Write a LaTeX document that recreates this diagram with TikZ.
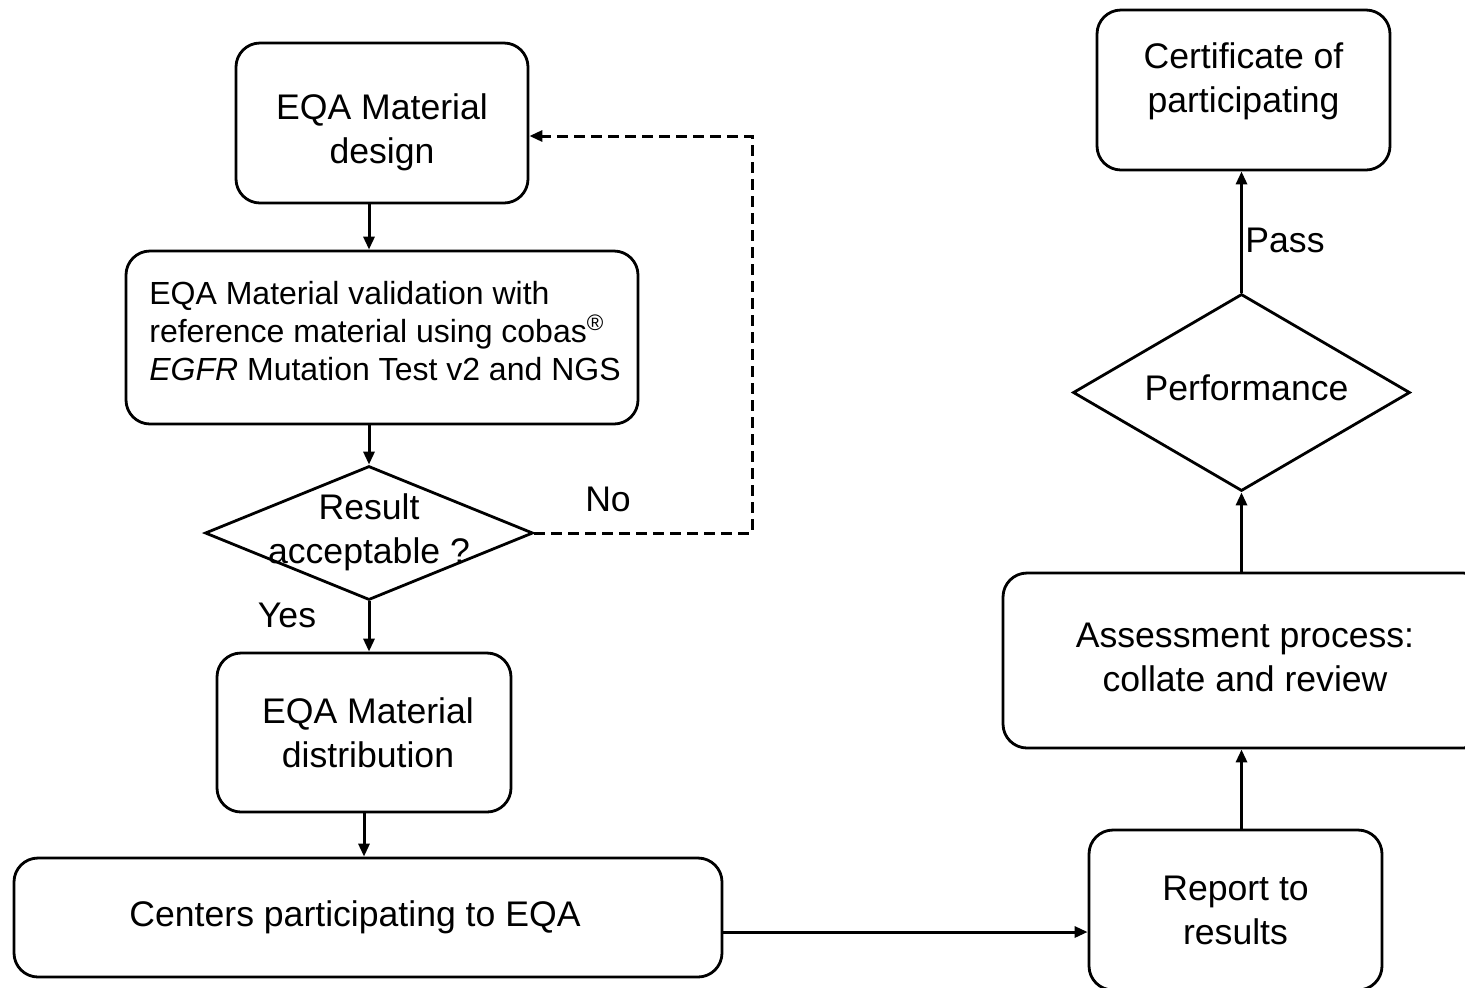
\documentclass[tikz,border=0pt]{standalone}
\usepackage{fontspec}
\setmainfont{Liberation Sans}
\usetikzlibrary{shapes.geometric,arrows.meta}
\begin{document}
\begin{tikzpicture}[x=0.5pt,y=-0.5pt,
  big/.style={font=\fontsize{17.8}{22}\selectfont},
  box/.style={draw, line width=1.4pt, rounded corners=12pt, inner sep=0pt},
  dia/.style={draw, line width=1.4pt, diamond, inner sep=0pt},
  tl/.style={align=center, inner sep=0pt, big},
  conn/.style={line width=1.5pt, -{Triangle[length=6.5pt,width=5.5pt]}},
  back/.style={conn, dash pattern=on 5.5pt off 3pt},
  lab/.style={inner sep=0pt, big}]
\useasboundingbox (0,0) rectangle (1465,987);
\fill[white] (0,0) rectangle (1465,987);

\node[box, minimum width=146pt, minimum height=80pt,
  label={[tl, yshift=-4.5pt]center:EQA Material\\design}] (design) at (382,123) {};
\node[box, minimum width=256pt, minimum height=86.5pt,
  label={[tl, align=left, font=\fontsize{16}{19}\selectfont, yshift=3.2pt, xshift=1.5pt]center:EQA Material validation with\\reference material using cobas\textsuperscript{®}\\\textit{EGFR} Mutation Test v2 and NGS}] (valid) at (382,337.5) {};
\node[dia, minimum width=164pt, minimum height=67pt,
  label={[tl, yshift=0.4pt]center:Result\\acceptable ?}] (dia) at (369,533) {};
\node[box, minimum width=147pt, minimum height=79.5pt,
  label={[tl, xshift=2pt]center:EQA Material\\distribution}] (dist) at (364,732.5) {};
\node[box, minimum width=354pt, minimum height=59.5pt,
  label={[tl, xshift=-6.5pt]center:Centers participating to EQA}] (centers) at (368,917.5) {};
\node[box, minimum width=146.5pt, minimum height=80pt,
  label={[tl]center:Report to\\results}] (report) at (1235.5,910) {};
\node[box, minimum width=242pt, minimum height=87.5pt,
  label={[tl, yshift=1.5pt]center:Assessment process:\\collate and review}] (assess) at (1245,660.5) {};
\node[dia, minimum width=168.5pt, minimum height=98.5pt,
  label={[tl, yshift=2.5pt, xshift=2.5pt]center:Performance}] (perf) at (1241.5,392.5) {};
\node[box, minimum width=146.5pt, minimum height=80pt,
  label={[tl, yshift=4.5pt]center:Certificate of\\participating}] (cert) at (1243.5,90) {};

\node[lab] (no) at (608,499) {No};
\node[lab] (yes) at (287,615) {Yes};
\node[lab] (pass) at (1285,240) {Pass};

\coordinate (fb) at (752,533);

\draw[conn] (design.south -| dia) -- (valid.north -| dia);
\draw[conn] (valid.south -| dia) -- (dia.north);
\draw[conn] (dia.south) -- (dist.north -| dia);
\draw[conn] (dist.south) -- (centers.north -| dist);
\draw[conn] ([yshift=-7.25pt]centers.east) -- ([yshift=-7.25pt]centers.east -| report.west);
\draw[conn] (report.north -| perf) -- (assess.south -| perf);
\draw[conn] (assess.north -| perf) -- (perf.south);
\draw[conn] (perf.north) -- (cert.south -| perf);
\draw[back] (dia.east) -- (dia.east -| fb) |- ([yshift=-6.5pt]design.east);
\end{tikzpicture}
\end{document}
